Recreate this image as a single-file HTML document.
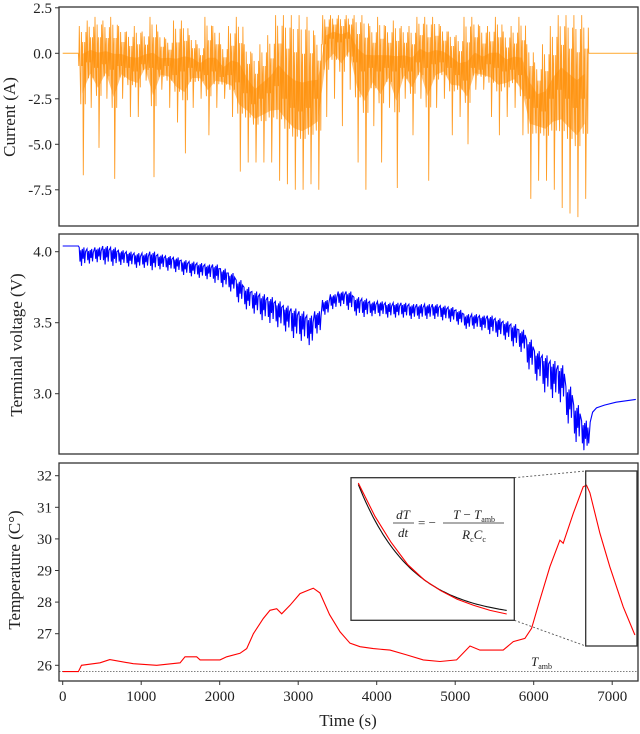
<!DOCTYPE html>
<html><head><meta charset="utf-8"><style>
html,body{margin:0;padding:0;background:#fff;}
svg{display:block;font-family:"Liberation Serif",serif;}
</style></head><body>
<svg id="fig" width="640" height="734" viewBox="0 0 640 734" xmlns="http://www.w3.org/2000/svg">
<defs>
<clipPath id="c1"><rect x="59" y="7" width="579" height="219"/></clipPath>
<clipPath id="c2"><rect x="59" y="234" width="579" height="220"/></clipPath>
<clipPath id="c3"><rect x="59" y="463" width="579" height="218"/></clipPath>
</defs>
<g id="p1"></g>
<g id="p2"></g>
<g id="p3"></g>
</svg>
<script>
// ---- data ----
const binStart = 200, binWidth = 100;
const currentCenter = [-0.7,-0.5,-0.8,-0.6,-0.9,-0.7,-0.8,-1.0,-0.6,-0.8,-0.9,-0.7,-1.2,
 -1.0,-0.8,-1.0,-1.2,-1.0,-1.3,-1.2,-1.6,
 -2.2,-2.8,-2.5,-2.2,-1.8,-2.5,-3.0,-3.2,-3.0,-2.5,
 0.5,0.8,0.6,0.8,-0.5,-1.0,-0.8,
 -1.0,-0.8,-1.0,-0.8,-1.0,-0.5,-0.8,-0.6,-0.5,-0.8,
 -1.2,-1.5,-0.8,-0.9,-0.6,-0.8,-1.0,-0.9,-1.2,-2.5,
 -3.0,-3.2,-2.5,-2.0,-2.5,-3.0,-2.5];
const currentMax = [1.5,1.8,2.0,1.8,2.0,1.5,1.2,1.5,1.2,2.0,1.2,0.8,1.8,
 1.8,1.0,0.5,2.0,1.5,0.5,1.5,2.0,
 0.5,0.0,0.5,1.0,2.1,2.1,2.1,2.1,2.0,1.0,
 2.1,2.1,2.1,2.1,2.1,2.1,1.5,
 2.0,1.5,1.8,1.5,1.5,2.0,2.0,2.0,1.5,1.2,
 1.0,2.0,2.0,1.5,1.5,2.0,1.2,1.5,2.0,0.5,
 -0.5,0.5,1.5,2.1,2.1,2.1,2.1];
const currentMin = [-6.7,-3.0,-5.2,-2.5,-6.9,-2.5,-3.5,-3.5,-1.5,-6.8,-2.0,-3.0,-3.8,
 -5.5,-3.0,-2.5,-4.5,-3.0,-2.5,-3.5,-6.5,
 -6.0,-6.0,-6.0,-6.0,-7.0,-7.2,-7.5,-7.5,-7.2,-7.5,
 -3.5,-2.5,-4.0,-2.0,-6.0,-7.5,-4.0,
 -6.0,-3.0,-7.4,-2.5,-4.5,-2.5,-7.0,-3.0,-2.5,-4.5,
 -3.5,-5.0,-2.0,-2.0,-3.5,-4.5,-3.5,-3.0,-4.5,-8.0,
 -7.0,-7.0,-7.5,-8.5,-8.8,-9.0,-8.0];
const voltageMid = [3.98,3.98,3.99,3.99,3.98,3.97,3.96,3.95,3.95,3.95,3.94,3.93,3.92,
 3.90,3.89,3.88,3.87,3.86,3.83,3.80,3.74,
 3.69,3.66,3.63,3.61,3.58,3.55,3.52,3.50,3.47,3.52,
 3.62,3.66,3.68,3.67,3.63,3.62,3.61,
 3.61,3.60,3.60,3.60,3.59,3.59,3.59,3.59,3.58,3.57,
 3.55,3.52,3.52,3.51,3.50,3.48,3.46,3.43,3.39,3.30,
 3.22,3.17,3.13,3.10,2.95,2.82,2.73];
const voltageAmp = [0.05,0.04,0.04,0.05,0.05,0.04,0.04,0.04,0.04,0.05,0.04,0.04,0.04,
 0.04,0.04,0.04,0.04,0.05,0.05,0.05,0.06,
 0.06,0.06,0.07,0.07,0.07,0.07,0.08,0.08,0.08,0.06,
 0.04,0.04,0.04,0.05,0.05,0.05,0.04,
 0.04,0.04,0.04,0.04,0.04,0.04,0.04,0.04,0.04,0.04,
 0.04,0.04,0.04,0.04,0.05,0.05,0.05,0.06,0.06,0.08,
 0.08,0.1,0.1,0.1,0.1,0.1,0.08];
const voltagePreTime = [0,200], voltagePre = [4.04,4.04];
const voltageRestTime = [6700,6720,6750,6800,6900,7050,7300];
const voltageRest = [2.65,2.80,2.87,2.90,2.92,2.94,2.96];
const tempTime = [0,200,240,475,600,899,1198,1495,1558,1707,1750,2004,2089,2259,2344,2429,2556,2641,2726,2790,2896,3023,3150,3192,3277,3400,3533,3660,3787,3957,4169,4381,4594,4806,5018,5188,5315,5612,5740,5888,5973,6079,6206,6334,6376,6504,6631,6673,6716,6843,6970,7140,7289];
const tempVal = [25.8,25.8,26.0,26.08,26.18,26.05,26.0,26.08,26.27,26.27,26.17,26.17,26.27,26.38,26.53,27.0,27.48,27.74,27.79,27.63,27.9,28.27,28.4,28.44,28.29,27.6,27.06,26.7,26.59,26.53,26.48,26.33,26.17,26.12,26.17,26.61,26.48,26.48,26.75,26.85,27.17,28.07,29.12,29.96,29.86,30.81,31.65,31.7,31.46,30.18,29.12,27.85,26.96];
const tAmb = 25.8;
const insetTime = [0,67,133,200,267,333,400,467,533,600];
const insetRed = [31.75,30.55,29.6,28.8,28.25,27.86,27.55,27.33,27.15,27.02];
const fitC = 26.855, fitA = 4.845, fitTau = 214.5;
const xTicks = [0,1000,2000,3000,4000,5000,6000,7000];
const currentTicks = [2.5,0.0,-2.5,-5.0,-7.5];
const voltageTicks = [4.0,3.5,3.0];
const tempTicks = [26,27,28,29,30,31,32];

// ---- scales ----
const X = t => 62.7 + 0.0785*t;
const YI = v => 53.3 - 18.2*v;
const YV = v => 251.7 - 142*(v-4.0);
const YT = v => 665.3 - 31.6*(v-26);
const NS = "http://www.w3.org/2000/svg";
function mk(parent, tag, attrs){const e=document.createElementNS(NS,tag);for(const k in attrs)e.setAttribute(k,attrs[k]);parent.appendChild(e);return e;}
const p1=document.getElementById('p1'),p2=document.getElementById('p2'),p3=document.getElementById('p3');

function frame(g,y0,y1,name){
  const r=mk(g,'rect',{x:59,y:y0,width:579,height:y1-y0,fill:'none',stroke:'#333','stroke-width':1.3});
  
  
}
function yAxis(g,ticks,Y,fmt,name){
  ticks.forEach(v=>{
    const y=Y(v);
    const l=mk(g,'line',{x1:55,x2:59,y1:y,y2:y,stroke:'#333','stroke-width':1});
    
    
    const t=mk(g,'text',{x:52,y:y+5,'text-anchor':'end','font-size':15,fill:'#222'});
    t.textContent=fmt(v);
    
    
  });
}
function yTitle(g,x,y,txt,name){
  const t=mk(g,'text',{x:x,y:y,'text-anchor':'middle','font-size':17,fill:'#222',transform:`rotate(-90 ${x} ${y})`});
  t.textContent=txt;
  
  
}
const pattern=[[0.05,'c'],[0.12,'max'],[0.2,'c'],[0.3,'lo'],[0.38,'hi2'],[0.46,'c'],[0.55,'hi'],[0.63,'min'],[0.72,'c'],[0.8,'hi'],[0.88,'lo'],[0.95,'hi2']];

// ---- current ----
{
  const g=mk(p1,'g',{'clip-path':'url(#c1)'});
  const flat1=mk(g,'line',{x1:X(0),x2:X(200),y1:YI(0),y2:YI(0),stroke:'#ffb347','stroke-width':1.2});
  
  
  const flat2=mk(g,'line',{x1:X(6700),x2:X(7330),y1:YI(0),y2:YI(0),stroke:'#ffb347','stroke-width':1.2});
  
  
  let pts=[[X(200),YI(0)]];
  currentCenter.forEach((c,i)=>{
    const mx=currentMax[i], mn=currentMin[i];
    const lv={c:c,max:mx,min:mn,hi:c+(mx-c)*0.6,hi2:c+(mx-c)*0.85,lo:c+(mn-c)*0.35};
    pattern.forEach(([f,k])=>pts.push([X(binStart+binWidth*(i+f)),YI(lv[k])]));
  });
  pts.push([X(6700),YI(0)]);
  const band=mk(g,'path',{d:'M'+currentCenter.map((c,i)=>X(binStart+binWidth*(i+0.5)).toFixed(1)+','+YI(c+ (currentMax[i]-c)*0.3).toFixed(1)).join('L')+'L'+currentCenter.map((c,i)=>[i,c]).reverse().map(([i,c])=>X(binStart+binWidth*(i+0.5)).toFixed(1)+','+YI(c+(currentMin[i]-c)*0.25).toFixed(1)).join('L')+'Z',fill:'#ff8c00',opacity:0.5});
  
  
  const line=mk(g,'polyline',{points:pts.map(p=>p[0].toFixed(1)+','+p[1].toFixed(1)).join(' '),fill:'none',stroke:'#ff8c00','stroke-width':0.9,opacity:0.85});
  
  
  frame(p1,7,226,'current-plot-frame');
  yAxis(p1,currentTicks,YI,v=>v.toFixed(1),'current-y');
  yTitle(p1,15,117,'Current (A)','current-y-axis-title');
}
// ---- voltage ----
{
  const g=mk(p2,'g',{'clip-path':'url(#c2)'});
  let pts=voltagePreTime.map((t,i)=>[X(t),YV(voltagePre[i])]);
  const vp=[[0.1,1],[0.2,-1],[0.3,0.6],[0.4,-1.6],[0.5,0.8],[0.6,-0.6],[0.7,1],[0.8,-1.2],[0.9,0.4]];
  voltageMid.forEach((m,i)=>{
    vp.forEach(([f,s])=>pts.push([X(binStart+binWidth*(i+f)),YV(m+s*voltageAmp[i])]));
  });
  voltageRestTime.forEach((t,i)=>pts.push([X(t),YV(voltageRest[i])]));
  const line=mk(g,'polyline',{points:pts.map(p=>p[0].toFixed(1)+','+p[1].toFixed(1)).join(' '),fill:'none',stroke:'#0000ff','stroke-width':1.1});
  
  
  frame(p2,234,454,'voltage-plot-frame');
  yAxis(p2,voltageTicks,YV,v=>v.toFixed(1),'voltage-y');
  yTitle(p2,22,345,'Terminal voltage (V)','voltage-y-axis-title');
}
// ---- temperature ----
{
  const g=mk(p3,'g',{'clip-path':'url(#c3)'});
  const amb=mk(g,'line',{x1:59,x2:638,y1:YT(tAmb),y2:YT(tAmb),stroke:'#555','stroke-width':0.8,'stroke-dasharray':'1.5,1.5'});
  
  
  const line=mk(g,'polyline',{points:tempTime.map((t,i)=>X(t).toFixed(1)+','+YT(tempVal[i]).toFixed(1)).join(' '),fill:'none',stroke:'#ff0000','stroke-width':1.1});
  
  
  const zr=mk(p3,'rect',{x:585.7,y:471,width:51.3,height:175,fill:'none',stroke:'#333','stroke-width':1.3});
  
  
  const c1=mk(p3,'line',{x1:514.3,y1:477.7,x2:585.7,y2:471,stroke:'#555','stroke-width':0.9,'stroke-dasharray':'2,2'});
  
  
  const c2=mk(p3,'line',{x1:514.3,y1:620.3,x2:585.7,y2:646,stroke:'#555','stroke-width':0.9,'stroke-dasharray':'2,2'});
  
  
  const ib=mk(p3,'rect',{x:351,y:477.7,width:163.3,height:142.6,fill:'#fff',stroke:'#333','stroke-width':1.3});
  
  
  const IX=t=>358.3+t*(148.4/600), IY=v=>483+(31.75-v)*(131/4.73);
  let fp=[];for(let k=0;k<=60;k++){const t=k*10;fp.push(IX(t).toFixed(1)+','+IY(fitC+fitA*Math.exp(-t/fitTau)).toFixed(1));}
  const fit=mk(p3,'polyline',{points:fp.join(' '),fill:'none',stroke:'#111','stroke-width':1.1});
  
  
  const ir=mk(p3,'polyline',{points:insetTime.map((t,i)=>IX(t).toFixed(1)+','+IY(insetRed[i]).toFixed(1)).join(' '),fill:'none',stroke:'#ff0000','stroke-width':1.1});
  
  
  const eq=mk(p3,'g',{'font-size':13,fill:'#222','font-style':'italic'});
  
  
  eq.innerHTML='<text x="403" y="519" text-anchor="middle">dT</text><line x1="393" x2="414" y1="523" y2="523" stroke="#222" stroke-width="0.8"/><text x="403" y="537" text-anchor="middle">dt</text>'+
   '<text x="418" y="527" font-style="normal">= −</text>'+
   '<text x="474" y="519" text-anchor="middle">T<tspan font-style="normal"> − </tspan>T<tspan font-size="8" font-style="normal" dy="3">amb</tspan></text><line x1="443" x2="504" y1="523" y2="523" stroke="#222" stroke-width="0.8"/>'+
   '<text x="474" y="539" text-anchor="middle">R<tspan font-size="8" font-style="normal" dy="3">c</tspan><tspan dy="-3">C</tspan><tspan font-size="8" font-style="normal" dy="3">c</tspan></text>';
  const ta=mk(p3,'text',{x:531,y:666,'font-size':13,'font-style':'italic',fill:'#222'});
  ta.innerHTML='T<tspan font-size="8" font-style="normal" dy="3">amb</tspan>';
  
  
  frame(p3,463,681,'temperature-plot-frame');
  yAxis(p3,tempTicks,YT,v=>String(v),'temperature-y');
  yTitle(p3,20,570,'Temperature (C°)','temperature-y-axis-title');
  xTicks.forEach(t=>{
    const x=X(t);
    const l=mk(p3,'line',{x1:x,x2:x,y1:681,y2:685,stroke:'#333','stroke-width':1});
    
    
    const tx=mk(p3,'text',{x:x,y:701,'text-anchor':'middle','font-size':15,fill:'#222'});
    tx.textContent=String(t);
    
    
  });
  const xt=mk(p3,'text',{x:348,y:726,'text-anchor':'middle','font-size':17,fill:'#222'});
  xt.textContent='Time (s)';
  
  
}
</script>
</body></html>
